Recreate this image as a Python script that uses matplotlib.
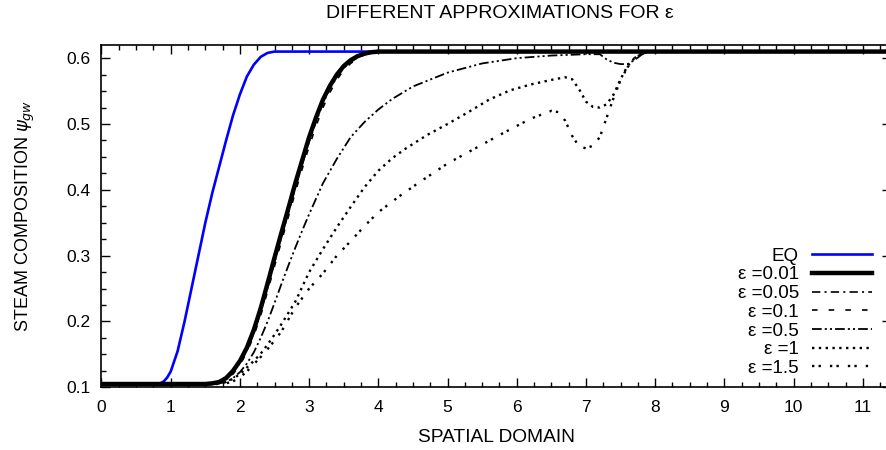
import numpy as np
import matplotlib.pyplot as plt

plt.rcParams['font.family'] = ['Liberation Sans', 'DejaVu Sans']
plt.rcParams['mathtext.fontset'] = 'dejavusans'
plt.rcParams['lines.scale_dashes'] = False

# steam composition along the spatial domain for each approximation
x_eq = [0, 0.8, 0.85, 0.9, 0.95, 1.0, 1.1, 1.2, 1.3, 1.4, 1.5, 1.6, 1.7, 1.8, 1.9, 2.0,
        2.1, 2.2, 2.3, 2.4, 2.5, 2.6, 11.4]
y_eq = [0.105, 0.105, 0.106, 0.109, 0.115, 0.124, 0.155, 0.2, 0.25, 0.3, 0.35, 0.395,
        0.435, 0.475, 0.513, 0.545, 0.572, 0.59, 0.602, 0.608, 0.61, 0.61, 0.61]

x_fast = [0, 1.5, 1.6, 1.7, 1.8, 1.9, 2.0, 2.1, 2.2, 2.3, 2.4, 2.5, 2.6, 2.7, 2.8, 2.9,
          3.0, 3.1, 3.2, 3.3, 3.4, 3.5, 3.6, 3.7, 3.8, 3.9, 4.0, 11.4]
y_e001 = [0.105, 0.105, 0.106, 0.108, 0.114, 0.125, 0.14, 0.16, 0.187, 0.22, 0.258, 0.297,
          0.335, 0.372, 0.41, 0.445, 0.48, 0.51, 0.537, 0.558, 0.575, 0.588, 0.597, 0.603,
          0.607, 0.609, 0.61, 0.61]
y_e005 = [0.105, 0.105, 0.105, 0.107, 0.112, 0.122, 0.137, 0.156, 0.182, 0.214, 0.251, 0.29,
          0.328, 0.365, 0.403, 0.438, 0.473, 0.503, 0.531, 0.553, 0.571, 0.585, 0.594, 0.601,
          0.606, 0.608, 0.61, 0.61]
y_e01 = [0.105, 0.105, 0.105, 0.106, 0.111, 0.12, 0.134, 0.153, 0.178, 0.209, 0.246, 0.284,
         0.322, 0.359, 0.396, 0.432, 0.466, 0.497, 0.525, 0.548, 0.567, 0.582, 0.592, 0.6,
         0.605, 0.608, 0.61, 0.61]

x_e05 = [0, 1.6, 1.7, 1.8, 1.9, 2.0, 2.1, 2.2, 2.3, 2.4, 2.5, 2.6, 2.7, 2.8, 2.9, 3.0,
         3.2, 3.4, 3.6, 3.8, 4.0, 4.2, 4.5, 5.0, 5.5, 6.0, 6.5, 7.0, 7.2, 7.3, 7.4, 7.5,
         7.6, 7.7, 7.8, 7.9, 11.4]
y_e05 = [0.105, 0.105, 0.106, 0.108, 0.114, 0.123, 0.136, 0.153, 0.175, 0.2, 0.228, 0.257,
         0.285, 0.312, 0.338, 0.363, 0.41, 0.447, 0.48, 0.503, 0.522, 0.538, 0.557, 0.578,
         0.592, 0.6, 0.604, 0.606, 0.606, 0.598, 0.593, 0.591, 0.591, 0.597, 0.605, 0.61, 0.61]

x_e1 = [0, 1.6, 1.8, 1.9, 2.0, 2.1, 2.2, 2.3, 2.4, 2.5, 2.6, 2.8, 3.0, 3.2, 3.4, 3.6,
        3.8, 4.0, 4.2, 4.4, 4.7, 5.0, 5.3, 5.6, 5.9, 6.2, 6.5, 6.7, 6.8, 6.9, 7.0, 7.1,
        7.2, 7.3, 7.4, 7.5, 7.6, 7.7, 7.8, 7.9, 11.4]
y_e1 = [0.105, 0.105, 0.108, 0.113, 0.12, 0.13, 0.14, 0.151, 0.165, 0.18, 0.196, 0.23,
        0.275, 0.31, 0.343, 0.374, 0.404, 0.429, 0.448, 0.463, 0.483, 0.5, 0.518, 0.537,
        0.551, 0.56, 0.567, 0.571, 0.568, 0.553, 0.534, 0.526, 0.525, 0.53, 0.545, 0.568,
        0.588, 0.6, 0.606, 0.61, 0.61]

x_e15 = [0, 1.7, 1.8, 1.9, 2.0, 2.1, 2.2, 2.3, 2.4, 2.5, 2.6, 2.8, 3.0, 3.2, 3.4, 3.6,
         3.8, 4.0, 4.3, 4.6, 5.0, 5.4, 5.8, 6.2, 6.5, 6.6, 6.7, 6.8, 6.9, 7.0, 7.1, 7.2,
         7.3, 7.4, 7.5, 7.6, 7.7, 7.8, 7.9, 11.4]
y_e15 = [0.105, 0.105, 0.106, 0.109, 0.115, 0.124, 0.135, 0.146, 0.158, 0.171, 0.185, 0.221,
         0.25, 0.273, 0.3, 0.322, 0.345, 0.366, 0.39, 0.412, 0.44, 0.463, 0.486, 0.508,
         0.52, 0.518, 0.505, 0.482, 0.466, 0.463, 0.467, 0.48, 0.51, 0.54, 0.567, 0.586,
         0.6, 0.607, 0.61, 0.61]

fig = plt.figure(figsize=(8.87, 4.5), dpi=100)
ax = fig.add_axes([101.5 / 887, 1 - 387.3 / 450, (890.5 - 101.5) / 887, (387.3 - 45) / 450])

ax.plot(x_eq, y_eq, color='#0000ff', lw=1.9, label='EQ')
ax.plot(x_fast, y_e01, color='black', lw=1.2, dashes=(4, 8), label='ε =0.1')
ax.plot(x_fast, y_e005, color='black', lw=1.2, dashes=(6, 3, 1.5, 3), label='ε =0.05')
ax.plot(x_fast, y_e001, color='black', lw=3.2, label='ε =0.01')
ax.plot(x_e05, y_e05, color='black', lw=1.3, dashes=(7, 2.2, 1.5, 2.2, 1.5, 2.2), label='ε =0.5')
ax.plot(x_e1, y_e1, color='black', lw=1.7, dashes=(1.7, 3.2), label='ε =1')
ax.plot(x_e15, y_e15, color='black', lw=1.7, dashes=(1.7, 3, 1.7, 6.5), label='ε =1.5')

ax.set_xlim(0, 11.4)
ax.set_ylim(0.1, 0.62)
ax.set_xticks(np.arange(0, 12, 1))
ax.set_xticks(np.arange(0, 11.4, 0.25), minor=True)
ax.set_yticks([0.1, 0.2, 0.3, 0.4, 0.5, 0.6])
ax.set_yticks(np.arange(0.1, 0.62, 0.025), minor=True)
ax.tick_params(which='both', direction='in', top=True, right=True, labelsize=12.5, width=1)
ax.tick_params(which='major', length=6.5)
ax.tick_params(which='minor', length=3.5)
ax.tick_params(axis='x', which='major', pad=9)
ax.tick_params(axis='y', which='major', pad=8)
for s in ax.spines.values():
    s.set_linewidth(1.2)

ax.set_xlabel('SPATIAL DOMAIN', fontsize=13.8, labelpad=10.5)
ax.set_ylabel(r'STEAM COMPOSITION $\psi_{gw}$', fontsize=13, labelpad=21)
fig.text(500 / 887, 1 - 14 / 450, 'DIFFERENT APPROXIMATIONS FOR ε', ha='center', va='center', fontsize=14)

handles, labels = ax.get_legend_handles_labels()
order = [0, 3, 2, 1, 4, 5, 6]
leg = ax.legend([handles[i] for i in order], [labels[i] for i in order], loc='lower right',
                frameon=False, markerfirst=False, handlelength=3.2, fontsize=13.5,
                labelspacing=0.085, borderaxespad=0, borderpad=0, handletextpad=0.7)
leg.set_bbox_to_anchor((872 / 887, 1 - 377 / 450), transform=fig.transFigure)

fig.savefig('out.png', dpi=100)
